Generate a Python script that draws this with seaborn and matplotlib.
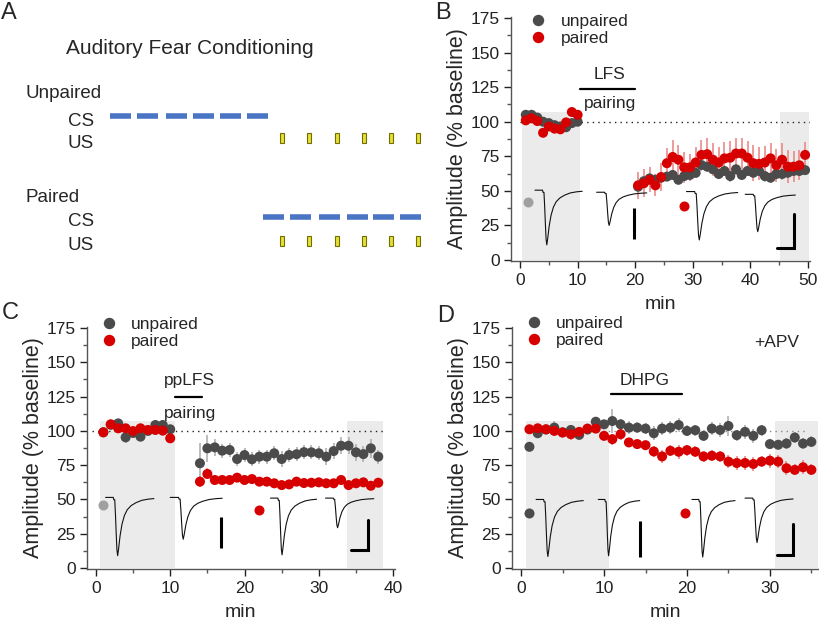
"""
Fear-conditioning figure: schematic (A) and three time-course panels (B-D)
with unpaired vs paired amplitudes (% baseline), example traces and scale bars.
"""
import numpy as np
import pandas as pd
import matplotlib
matplotlib.use("Agg")
import matplotlib.pyplot as plt
from matplotlib.lines import Line2D
from matplotlib.patches import Rectangle
from matplotlib.ticker import MultipleLocator
import seaborn as sns

sns.set_style("ticks")
plt.rcParams["font.family"] = ["Liberation Sans", "DejaVu Sans"]

GRAY = "#4b4b4b"
RED = "#d60000"
GRAY_ERR = "#ababab"
RED_ERR = "#ea8080"
LIGHT_GRAY = "#a0a0a0"
SHADE = "#ebebeb"
CS_BLUE = "#4a74c4"
US_YELLOW = "#e6df38"

# ── Panel A : protocol schematic (positions along the drawn timeline) ──
cs_unpaired = [110, 137, 166, 193, 220, 247]
cs_paired = [263, 290, 319, 347, 373, 400]
us_times = [282, 309, 337, 364, 391, 418]
CS_LEN = 21

# ── Panel B : LFS pairing ──
b_min = [1, 2, 3, 4, 5, 6, 7, 8, 9, 10,
         20.5, 21.5, 22.5, 23.5, 24.5, 25.5, 26.5, 27.5, 28.5, 29.5,
         30.5, 31.5, 32.5, 33.5, 34.5, 35.5, 36.5, 37.5, 38.5, 39.5,
         40.5, 41.5, 42.5, 43.5, 44.5, 45.5, 46.5, 47.5, 48.5, 49.5]
b_unpaired = [105, 105, 103, 100, 99, 97.5, 96.5, 96, 99, 100,
              53, 57, 59, 58, 59.5, 60.3, 61.5, 58, 60.7, 61.5,
              63, 68.7, 67.5, 65.6, 62.2, 64.4, 60.7, 65.6, 61.5, 64.4,
              63.1, 64.4, 60.7, 59.5, 62.2, 62.2, 63.1, 64.4, 64.4, 65]
b_unpaired_err = [1.5] * 10 + [3, 3, 3, 3, 3, 3, 3, 3, 3, 3,
                               3, 4, 4, 3, 3, 4, 4, 4, 4, 4,
                               4, 4, 4, 4, 4, 4, 4, 4, 4, 3]
b_paired = [101, 102.5, 100.5, 92, 96.5, 95, 94.5, 99.5, 107, 105,
            54, 55.5, 58, 54, 60, 70, 74.5, 72.5, 67, 67,
            70.5, 76, 76.5, 72.5, 70.5, 73.5, 74, 77, 77, 74,
            70, 69.5, 70.5, 73.5, 68.5, 72.5, 67.5, 67.5, 68.5, 76]
b_paired_err = [2] * 10 + [10, 10, 9, 8, 10, 11, 12, 11, 11, 10,
                           11, 11, 12, 12, 11, 12, 12, 11, 11, 12,
                           13, 12, 12, 11, 12, 12, 12, 11, 11, 9]

# ── Panel C : ppLFS pairing ──
c_min = [1, 2, 3, 4, 5, 6, 7, 8, 9, 10,
         14, 15, 16, 17, 18, 19, 20, 21, 22, 23, 24, 25, 26,
         27, 28, 29, 30, 31, 32, 33, 34, 35, 36, 37, 38]
c_unpaired = [99, 104.5, 105.5, 95.3, 98.5, 95.8, 100, 104.3, 104.3, 101.2,
              76.4, 87.3, 88, 85.6, 86.1, 79.5, 82.4, 79.3, 81.2, 81.2, 83.7, 79.5, 82.4,
              83, 84.5, 84.4, 83.7, 81.2, 85.3, 89.2, 89.2, 84.4, 83.1, 87.3, 81.2]
c_unpaired_err = [2, 2, 2, 4, 3, 3, 2, 2, 2, 2,
                  15, 10, 6, 5, 5, 5, 5, 5, 5, 5, 5, 6, 5,
                  5, 5, 5, 5, 6, 6, 6, 6, 6, 6, 7, 5]
c_paired = [99, 104.8, 101.9, 101.9, 99.9, 101.9, 100.7, 100.7, 100.2, 94.6,
            63, 68.6, 64.2, 64.2, 64.2, 65.9, 64.2, 64.9, 63, 63, 61.8, 60.5, 61,
            63, 62, 62.2, 62.5, 61.8, 61.8, 64.2, 60.5, 61.8, 62.5, 60, 62.2]
c_paired_err = [2] * 10 + [4, 4, 3, 3, 3, 3, 3, 3, 3, 3, 3, 3, 3,
                           3, 3, 3, 3, 3, 3, 3, 3, 3, 3, 3, 3]

# ── Panel D : DHPG + APV ──
d_min = list(range(1, 36))
d_unpaired = [88.4, 98.3, 101, 102.4, 99, 100.7, 97.1, 101, 106.7, 104.8,
              107.2, 104.8, 102.4, 102.4, 101.7, 98.3, 101.7, 102.4, 104.3, 100,
              100.5, 96.4, 101.7, 100.7, 103.6, 96.9, 99.3, 96.4, 100.5, 90.4,
              89.9, 90.8, 95.2, 90.8, 92]
d_unpaired_err = [3, 3, 3, 5, 3, 3, 3, 3, 3, 3,
                  9, 4, 5, 4, 4, 5, 5, 5, 5, 4,
                  4, 4, 5, 5, 7, 4, 5, 5, 4, 3,
                  3, 4, 4, 4, 4]
d_paired = [101.2, 101.9, 101.2, 100, 98.8, 97.6, 99.3, 101.7, 101.7, 96.4,
            94, 97.6, 91.6, 90.4, 89.6, 85, 81.4, 85.5, 84.8, 86,
            84.8, 81.4, 81.9, 81.4, 77.6, 76.6, 76.6, 75.9, 77.6, 78.3,
            77.6, 72.8, 71.6, 73.5, 71.6]
d_paired_err = [2, 2, 2, 2, 3, 4, 3, 2, 3, 3,
                4, 4, 3, 3, 3, 4, 5, 4, 5, 4,
                4, 4, 4, 4, 5, 5, 5, 5, 4, 5,
                5, 5, 4, 5, 4]

# example EPSC waveform (fraction of trace span, fraction of peak depth)
trace_t = [0.00, 0.16, 0.17, 0.19, 0.205, 0.22, 0.235, 0.25, 0.27, 0.30, 0.34,
           0.39, 0.45, 0.53, 0.63, 0.75, 0.88, 1.00]
trace_v = [0.00, 0.00, -0.04, -0.04, -0.30, -0.62, -0.90, -1.00, -0.88, -0.66, -0.46,
           -0.31, -0.21, -0.14, -0.09, -0.05, -0.03, -0.02]

# (start min, end min, baseline level, peak level)
b_traces = [(2.6, 10.8, 50.5, 11), (13.3, 22.0, 49, 25), (28.9, 37.8, 49.5, 14.5), (39.1, 47.8, 47.5, 20.5)]
c_traces = [(1.3, 7.8, 51.5, 9), (10.0, 17.0, 51.5, 21), (23.5, 29.7, 51, 9.6), (30.9, 37.4, 51, 29.4)]
d_traces = [(1.8, 7.5, 50, 8.4), (9.3, 14.3, 50, 8.9), (20.6, 25.8, 50, 8), (27.0, 32.8, 51, 18.6)]

# scale bars: vertical (x, y0, y1); L-bar (x0, x1, y0, y1)
b_vbar, b_lbar = (19.85, 15, 37.8), (44.7, 47.5, 8.5, 33)
c_vbar, c_lbar = (16.9, 14.5, 36.9), (34.3, 36.6, 12.8, 35)
d_vbar, d_lbar = (14.3, 7.7, 34.5), (30.8, 32.8, 9.6, 32)

# trace-group markers (x, y)
b_marks = [(1.3, 42), (28.5, 39)]
c_marks = [(0.9, 46), (22.0, 42.5)]
d_marks = [(1.0, 40), (19.8, 40)]

# baseline / end shaded windows
b_shade = [(0.3, 10.5), (45.1, 50.2)]
c_shade = [(0.6, 10.6), (33.8, 38.7)]
d_shade = [(0.6, 10.6), (30.6, 35.8)]


fig = plt.figure(figsize=(8.2, 6.2), dpi=100)
W, H = 820, 620


def px_axes(left, top, width, height):
    return fig.add_axes([left / W, 1 - (top + height) / H, width / W, height / H])


def draw_panel(ax, x, up, up_err, pa, pa_err, xlim, shades, dot_span, dot_color,
               traces, vbar, lbar, marks, mark_gray, legend_xy):
    for x0, x1 in shades:
        ax.fill_between([x0, x1], 0, 107, color=SHADE, lw=0, zorder=0)
    ax.hlines(100, dot_span[0], dot_span[1], colors=dot_color, linestyles=(0, (1, 3)),
              lw=1, zorder=1)

    ax.errorbar(x, up, yerr=up_err, fmt="none", ecolor=GRAY_ERR, elinewidth=1.1, zorder=2)
    ax.errorbar(x, pa, yerr=pa_err, fmt="none", ecolor=RED_ERR, elinewidth=1.1, zorder=2)
    df = pd.DataFrame({"min": list(x) * 2,
                       "amp": list(up) + list(pa),
                       "group": ["unpaired"] * len(x) + ["paired"] * len(x)})
    sns.scatterplot(data=df, x="min", y="amp", hue="group",
                    palette={"unpaired": GRAY, "paired": RED},
                    s=52, linewidth=0, legend=False, ax=ax, zorder=4)

    for x0, x1, base, peak in traces:
        tx = [x0 + t * (x1 - x0) for t in trace_t]
        ty = [base + v * (base - peak) for v in trace_v]
        ax.plot(tx, ty, color="#111111", lw=0.8, zorder=3)
    ax.plot([vbar[0], vbar[0]], [vbar[1], vbar[2]], color="black", lw=2.2,
            solid_capstyle="butt", zorder=3)
    ax.plot([lbar[0], lbar[1], lbar[1]], [lbar[2], lbar[2], lbar[3]], color="black",
            lw=2.2, solid_joinstyle="miter", zorder=3)
    ax.scatter([marks[0][0]], [marks[0][1]], s=52, color=mark_gray, lw=0, zorder=4)
    ax.scatter([marks[1][0]], [marks[1][1]], s=52, color=RED, lw=0, zorder=4)

    handles = [Line2D([], [], marker="o", ls="", color=GRAY, markersize=7.2),
               Line2D([], [], marker="o", ls="", color=RED, markersize=7.2)]
    ax.legend(handles, ["unpaired", "paired"], loc="upper left", bbox_to_anchor=legend_xy,
              frameon=False, fontsize=12.5, handlelength=1.0, handletextpad=0.8,
              labelspacing=0.1, borderpad=0, borderaxespad=0)

    ax.set_xlim(*xlim)
    ax.set_ylim(-1, 176)
    ax.xaxis.set_major_locator(MultipleLocator(10))
    ax.xaxis.set_minor_locator(MultipleLocator(5))
    ax.yaxis.set_major_locator(MultipleLocator(25))
    ax.yaxis.set_minor_locator(MultipleLocator(12.5))
    ax.tick_params(which="major", length=5, width=1, labelsize=12.5, pad=3, colors="#222222")
    ax.tick_params(which="minor", length=3, width=1, colors="#555555")
    ax.set_xlabel("min", fontsize=14, labelpad=6)
    ax.set_ylabel("Amplitude (% baseline)", fontsize=15.5, labelpad=2)
    sns.despine(ax=ax)
    for sp in ("left", "bottom"):
        ax.spines[sp].set_color("#555555")
        ax.spines[sp].set_linewidth(1)


# ── Panel A ──
ax_a = px_axes(0, 0, 430, 300)
ax_a.set_xlim(0, 430)
ax_a.set_ylim(300, 0)
ax_a.axis("off")
ax_a.text(66, 48, "Auditory Fear Conditioning", fontsize=15, va="center")
for label, y_head, y_cs, y_us, cs_starts in [("Unpaired", 94, 121, 143, cs_unpaired),
                                              ("Paired", 197, 222, 246, cs_paired)]:
    ax_a.text(26, y_head, label, fontsize=13.5, va="center")
    ax_a.text(68, y_cs, "CS", fontsize=13.5, va="center")
    ax_a.text(68, y_us, "US", fontsize=13.5, va="center")
    for s in cs_starts:
        ax_a.plot([s, s + CS_LEN], [y_cs - 5, y_cs - 5], color=CS_BLUE, lw=4,
                  solid_capstyle="butt")
    for u in us_times:
        ax_a.add_patch(Rectangle((u - 2.2, y_us - 10), 4.5, 9.5, facecolor=US_YELLOW,
                                 edgecolor="#707000", lw=0.8, clip_on=False))

# ── Panel B ──
ax_b = px_axes(510.8, 16.6, 299.5, 244.8)
draw_panel(ax_b, b_min, b_unpaired, b_unpaired_err, b_paired, b_paired_err,
           (-1.6, 50.4), b_shade, (0, 50.3), "#222222", b_traces, b_vbar, b_lbar,
           b_marks, LIGHT_GRAY, (0.062, 1.012))
ax_b.plot([10.4, 19.9], [123.5, 123.5], color="black", lw=1.6)
ax_b.text(15.6, 134, "LFS", fontsize=12.5, ha="center", va="center")
ax_b.text(15.6, 113.5, "pairing", fontsize=12.5, ha="center", va="center")

# ── Panel C ──
ax_c = px_axes(87, 326.7, 307.6, 242.7)
draw_panel(ax_c, c_min, c_unpaired, c_unpaired_err, c_paired, c_paired_err,
           (-1.2, 40.2), c_shade, (-0.5, 38.9), "#222222", c_traces, c_vbar, c_lbar,
           c_marks, LIGHT_GRAY, (0.042, 1.04))
ax_c.plot([10.7, 14.3], [125, 125], color="black", lw=1.6)
ax_c.text(12.65, 137, "ppLFS", fontsize=12.5, ha="center", va="center")
ax_c.text(12.65, 112.8, "pairing", fontsize=12.5, ha="center", va="center")

# ── Panel D ──
ax_d = px_axes(512, 326.7, 306, 242.7)
draw_panel(ax_d, d_min, d_unpaired, d_unpaired_err, d_paired, d_paired_err,
           (-1.1, 35.8), d_shade, (0.5, 34.5), "#888888", d_traces, d_vbar, d_lbar,
           d_marks, GRAY, (0.042, 1.045))
ax_d.plot([10.8, 19.4], [127, 127], color="black", lw=1.6)
ax_d.text(14.9, 137, "DHPG", fontsize=12.5, ha="center", va="center")
ax_d.text(30.8, 164.3, "+APV", fontsize=12.5, ha="center", va="center")

# panel letters
for letter, px, py in [("A", 1, 13), ("B", 435, 13), ("C", 2, 313), ("D", 437, 316)]:
    fig.text(px / W, 1 - py / H, letter, fontsize=17, va="center", ha="left")

fig.savefig("out.png", dpi=100)
